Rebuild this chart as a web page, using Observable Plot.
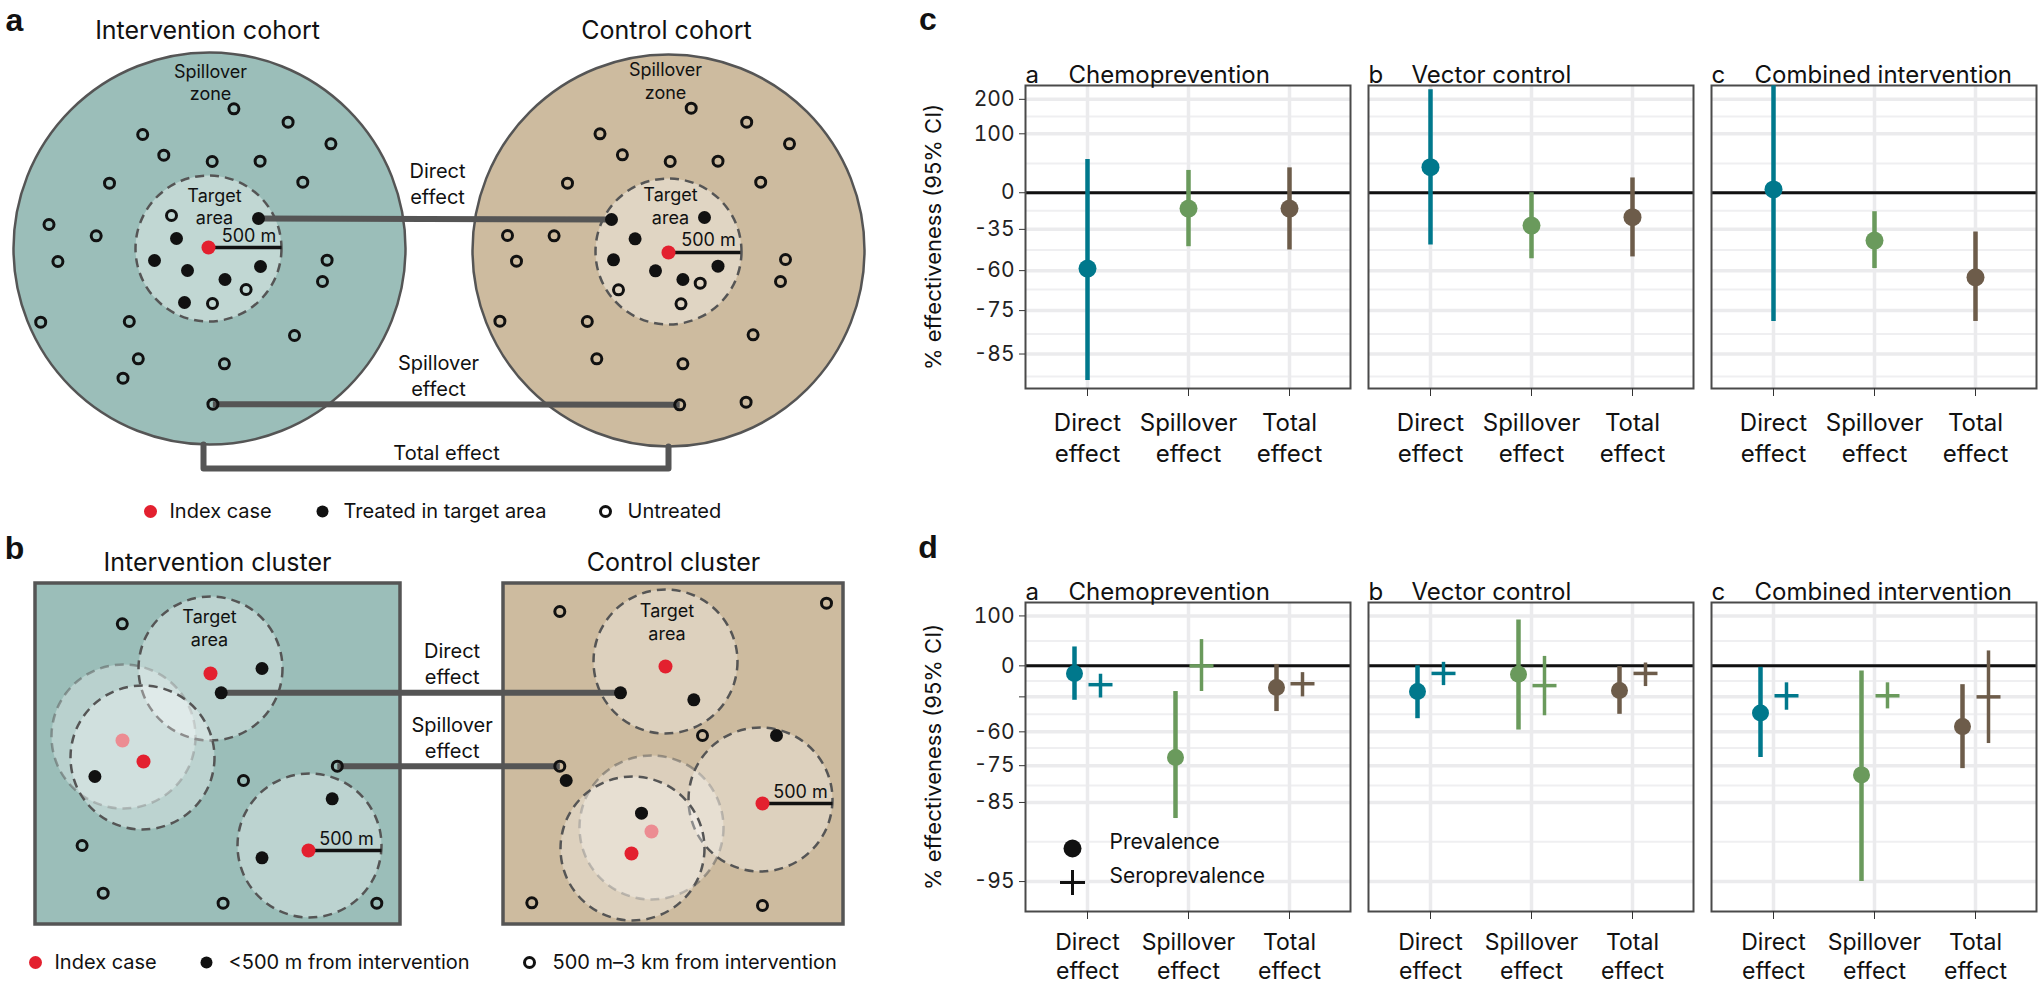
<!DOCTYPE html>
<html><head><meta charset="utf-8">
<script src="https://cdn.jsdelivr.net/npm/d3@7"></script>
<script src="https://cdn.jsdelivr.net/npm/@observablehq/plot@0.6"></script>
<style>
body{margin:0;background:#fff;}
#fig{position:relative;width:2040px;height:989px;overflow:hidden;background:#fff;font-family:Inter,"Liberation Sans",sans-serif;color:#111;}
.lbl{position:absolute;transform:translate(-50%,-50%);white-space:nowrap;line-height:1.1;}
.plabel{font-family:"Liberation Sans",Arial,sans-serif;font-weight:900;font-size:32px;}
</style></head><body><div id="fig"></div>
<script>
// ---------------- DATA ----------------
const effects = ["Direct effect", "Spillover effect", "Total effect"];
const interventions = ["Chemoprevention", "Vector control", "Combined intervention"];
const panelLetters = ["a", "b", "c"];

// c: cohort design, % effectiveness (rows: intervention, cols: effect)
const cohortEst = [[-59, -17, -17], [35, -32, -25], [4, -43, -63]];
const cohortLo  = [[-89, -47, -49], [-46, -54, -53], [-78, -59, -78]];
const cohortHi  = [[48, 30, 34], [236, 0, 19], [252, -20, -37]];

// d: cluster design, prevalence and seroprevalence
const prevEst = [[-10, -72, -26], [-30, -11, -29], [-48, -78, -57]];
const prevLo  = [[-38, -88, -47], [-52, -59, -49], [-72, -95, -76]];
const prevHi  = [[30, -30, 2], [0, 89, -1], [-2, -7, -23]];
const seroEst = [[-23, 0, -22], [-10, -24, -10], [-34, -34, -35]];
const seroLo  = [[-36, -30, -35], [-24, -50, -25], [-46, -45, -66]];
const seroHi  = [[-11, 44, -9], [5, 14, 4], [-21, -21, 23]];

// axis ticks (% effectiveness)
const ticksC = [200, 100, 0, -35, -60, -75, -85];
const minorC = [145, 41, -19, -49, -68, -81, -88.5];
const ticksD = [100, 0, -35, -60, -75, -85, -95];
const minorD = [41, -19, -49, -68, -81, -91.3];
const domainC = [-90, 253];
const domainD = [-96.7, 141];
const yTitle = "% effectiveness (95% CI)";
const legendLabels = ["Prevalence", "Seroprevalence"];

// schematic (panels a, b) coordinates
const cohortZones = [{arm: "intervention", x: 209, y: 248}, {arm: "control", x: 668, y: 250}];
const cohortTargets = [{x: 208, y: 248}, {x: 668, y: 251}];
const cohortIndex = [[208, 247], [668, 252]];
const cohortTreated = [[258,218],[176,238],[154,260],[187,270],[260,266],[224.5,279],[184,302],
  [611,219],[704,217],[634.6,238.3],[613,259.3],[655,270.3],[682.4,279],[717.5,265.7]];
const cohortUntreated = [[171,215],[245.6,289],[212,303],
  [233.4,108.3],[287.6,121.7],[142.2,134],[330.4,143.3],[163.3,154.7],[211.7,161],[259.6,160.7],[109,182.7],[302.3,181.7],
  [48.5,224],[95.7,235.3],[57.4,261],[326.6,259.7],[322,281],[40.2,321.7],[128.8,321],[294,335],[137.8,358.3],[223.9,363.3],[122.5,377.7],[212.4,403.7],
  [699.7,282.7],[618,289.3],[680.5,303.3],
  [690.7,107.7],[746.2,121.7],[599.5,133.3],[789,143.3],[621.9,154.3],[669.7,161],[717.5,160.7],[567,182.7],[760.2,181.7],
  [507,235],[553.6,235.3],[516,260.7],[785,259],[780,281],[499.4,320.7],[586.8,321],[752.6,334.3],[596.3,358.3],[682.4,363.3],[745.6,401.7],[679.2,404.3]];
const totalBracket = [[203,444],[203,468],[668,468],[668,446]];

const clusterBoxes = [{arm: "intervention", x1: 35, y1: 583, x2: 400, y2: 924}, {arm: "control", x1: 503, y1: 583, x2: 843, y2: 924}];
const clusterGhosts = [[123,736],[651,827]];
const clusterTargets = [[210,668],[142,757],[309,845],[665,661],[760,799],[632,848]];
const clusterIndex = [[210,673],[143,761],[308,850],[665,666],[762,803],[631,853]];
const clusterGhostIndex = [[122,740],[651,831]];
const clusterTreated = [[261.5,668],[220.7,692.3],[94.4,776],[331.7,798.3],[261.5,857.3],[620,692.3],[693.3,699.3],[776,735],[565.7,780],[641,812.7]];
const clusterUntreated = [[121.8,623.3],[243,780],[336.8,765.7],[81.6,845],[102.7,892.7],[222.6,902.7],[376.3,902.7],
  [559.3,611],[826,602.7],[702,735],[559.3,765.7],[531.3,902.3],[762,905]];

const effectLinks = [
  {x1: 258, y1: 218, x2: 611, y2: 219}, {x1: 212.4, y1: 403.7, x2: 679.2, y2: 404.3},
  {x1: 220.7, y1: 692.3, x2: 620, y2: 692.3}, {x1: 336.8, y1: 765.7, x2: 559.3, y2: 765.7}];
const radiusLines = [
  {x1: 208, y1: 247, x2: 281, y2: 247}, {x1: 668, y1: 252, x2: 740, y2: 252},
  {x1: 308, y1: 850, x2: 381, y2: 850}, {x1: 762, y1: 803, x2: 832, y2: 803}];

const panelTitles = [["Intervention cohort", 207, 30], ["Control cohort", 666, 30], ["Intervention cluster", 217, 562], ["Control cluster", 673, 562]];
const zoneLabels = [["Spillover\nzone", 210, 81.5], ["Spillover\nzone", 665, 80], ["Target\narea", 214, 205.5], ["Target\narea", 670, 205],
  ["Target\narea", 209, 627], ["Target\narea", 666.5, 621]];
const radiusLabels = [["500 m", 248.5, 235.5], ["500 m", 708, 240], ["500 m", 346, 839], ["500 m", 800, 792]];
const effectLabels = [["Direct\neffect", 437, 182.5], ["Spillover\neffect", 438, 374.5], ["Total effect", 446, 451],
  ["Direct\neffect", 451.6, 662], ["Spillover\neffect", 451.6, 736]];
const letterLabels = [["a", 14, 20], ["b", 14, 548]];
const legendItems = [
  {kind: "index", x: 150, y: 511, label: "Index case", tx: 169},
  {kind: "treated", x: 322, y: 511, label: "Treated in target area", tx: 343},
  {kind: "untreated", x: 605, y: 511, label: "Untreated", tx: 627},
  {kind: "index", x: 35, y: 962, label: "Index case", tx: 54},
  {kind: "treated", x: 206, y: 962, label: "<500 m from intervention", tx: 228},
  {kind: "untreated", x: 529, y: 962, label: "500 m\u20133 km from intervention", tx: 552}];

// ---------------- STYLE ----------------
const FONT = "Inter, 'Liberation Sans', sans-serif";
const TEAL = "#00788C", GREEN = "#6A9A5C", BROWN = "#6D5C4A";
const armFill = {intervention: "#9BBEB9", control: "#CDBB9F"};
const RED = "#E3202F", PINK = "#EC8C92", INK = "#111";
const pts = a => a.map(([x, y]) => ({x, y}));
const txt = a => a.map(([text, x, y]) => ({text, x, y}));
const rr = e => 1 + e / 100;

const fig = document.getElementById("fig");
function place(node, left, top) {
  node.style.position = "absolute"; node.style.left = left + "px"; node.style.top = top + "px";
  fig.appendChild(node);
}
function label(text, cx, cy, cls) {
  const d = document.createElement("div");
  d.className = "lbl " + cls; d.textContent = text;
  d.style.left = cx + "px"; d.style.top = cy + "px";
  fig.appendChild(d);
}

// ---------------- SCHEMATIC (a, b) ----------------
const dash = "9,6";
const schematic = Plot.plot({
  width: 900, height: 989, margin: 0,
  x: {domain: [0, 900], range: [0, 900], axis: null},
  y: {domain: [0, 989], range: [0, 989], axis: null},
  color: {type: "identity"},
  style: {fontFamily: FONT, background: "transparent", overflow: "visible"},
  marks: [
    Plot.dot(cohortZones, {x: "x", y: "y", r: 196, fill: d => armFill[d.arm], stroke: "#555", strokeWidth: 2.5}),
    Plot.dot(cohortTargets, {x: "x", y: "y", r: 73, fill: "#fff", fillOpacity: 0.38, stroke: "#555", strokeWidth: 2.5, strokeDasharray: dash}),
    Plot.rect(clusterBoxes, {x1: "x1", y1: "y1", x2: "x2", y2: "y2", fill: d => armFill[d.arm], stroke: "#555", strokeWidth: 3.5}),
    Plot.dot(pts(clusterGhosts), {x: "x", y: "y", r: 72, fill: "#fff", fillOpacity: 0.3, stroke: "#555", strokeOpacity: 0.5, strokeWidth: 2.5, strokeDasharray: dash}),
    Plot.dot(pts(clusterTargets), {x: "x", y: "y", r: 72, fill: "#fff", fillOpacity: 0.33, stroke: "#555", strokeWidth: 2.5, strokeDasharray: dash}),
    Plot.line(pts(totalBracket), {x: "x", y: "y", stroke: "#555", strokeWidth: 6}),
    Plot.link(effectLinks, {x1: "x1", y1: "y1", x2: "x2", y2: "y2", stroke: "#555", strokeWidth: 6}),
    Plot.link(radiusLines, {x1: "x1", y1: "y1", x2: "x2", y2: "y2", stroke: INK, strokeWidth: 3.5}),
    Plot.text(txt(panelTitles), {x: "x", y: "y", text: "text", fontSize: 25, fill: INK}),
    Plot.text(txt(zoneLabels), {x: "x", y: "y", text: "text", fontSize: 18, lineHeight: 1.25, fill: INK}),
    Plot.text(txt(radiusLabels), {x: "x", y: "y", text: "text", fontSize: 18, fill: INK}),
    Plot.text(txt(effectLabels), {x: "x", y: "y", text: "text", fontSize: 20, lineHeight: 1.3, fill: INK}),
    Plot.text(txt(letterLabels), {x: "x", y: "y", text: "text", fontSize: 32, fontWeight: 900, fontFamily: "'Liberation Sans', Arial, sans-serif", fill: INK}),
    Plot.text(legendItems, {x: "tx", y: "y", text: "label", fontSize: 20, textAnchor: "start", fill: INK}),
    Plot.dot(pts(clusterUntreated), {x: "x", y: "y", r: 5, stroke: INK, strokeWidth: 3, fill: "none"}),
    Plot.dot(pts(cohortUntreated), {x: "x", y: "y", r: 5, stroke: INK, strokeWidth: 3, fill: "none"}),
    Plot.dot(legendItems.filter(d => d.kind === "untreated"), {x: "x", y: "y", r: 5, stroke: INK, strokeWidth: 3, fill: "none"}),
    Plot.dot(pts(cohortTreated), {x: "x", y: "y", r: 6.5, fill: INK}),
    Plot.dot(pts(clusterTreated), {x: "x", y: "y", r: 6.5, fill: INK}),
    Plot.dot(legendItems.filter(d => d.kind === "treated"), {x: "x", y: "y", r: 6, fill: INK}),
    Plot.dot(pts(clusterGhostIndex), {x: "x", y: "y", r: 7, fill: PINK}),
    Plot.dot(pts(cohortIndex), {x: "x", y: "y", r: 7, fill: RED}),
    Plot.dot(pts(clusterIndex), {x: "x", y: "y", r: 7, fill: RED}),
    Plot.dot(legendItems.filter(d => d.kind === "index"), {x: "x", y: "y", r: 6.5, fill: RED})
  ]
});
place(schematic, 0, 0);

// ---------------- EFFECT PLOTS (c, d) ----------------
const hbar = {draw(ctx, size) { const r = Math.sqrt(size / Math.PI); ctx.moveTo(-r, 0); ctx.lineTo(r, 0); }};
const plus = {draw(ctx, size) { const r = Math.sqrt(size / Math.PI); ctx.moveTo(-r, 0); ctx.lineTo(r, 0); ctx.moveTo(0, -r); ctx.lineTo(0, r); }};

function rows(est, lo, hi) {
  const out = [];
  interventions.forEach((p, i) => effects.forEach((e, j) =>
    out.push({panel: p, effect: e, est: est[i][j], lo: lo[i][j], hi: hi[i][j]})));
  return out;
}
const titleRows = interventions.map((p, i) => ({panel: p, letter: panelLetters[i]}));

function effectPlot({height, marginTop, marginBottom, ticks, minor, domain, series, legend, axisFont, axisPad, axisLH}) {
  const first = [{panel: interventions[0]}];
  const yMid = Math.sqrt(rr(domain[0]) * rr(domain[1]));
  const marks = [
    Plot.ruleY(minor.map(rr), {stroke: "#EFEFF1", strokeWidth: 2}),
    Plot.ruleY(ticks.map(rr), {stroke: "#EBEBED", strokeWidth: 3.5}),
    Plot.ruleX(effects, {stroke: "#EBEBED", strokeWidth: 3.5}),
    Plot.ruleY([1], {stroke: INK, strokeWidth: 3}),
    Plot.frame({stroke: "#4a4a4a", strokeWidth: 2})
  ];
  for (const s of series) {
    marks.push(Plot.ruleX(s.data, {fx: "panel", x: "effect", y1: d => rr(d.lo), y2: d => rr(d.hi), stroke: "effect", strokeWidth: s.lw, dx: s.dx}));
    if (s.kind === "dot") marks.push(Plot.dot(s.data, {fx: "panel", x: "effect", y: d => rr(d.est), fill: "effect", r: s.r, dx: s.dx}));
    else marks.push(Plot.dot(s.data, {fx: "panel", x: "effect", y: d => rr(d.est), symbol: hbar, fill: "none", stroke: "effect", strokeWidth: s.lw, r: 12, dx: s.dx}));
  }
  marks.push(
    Plot.axisX({tickFormat: d => d.replace(" ", "\n"), fontSize: axisFont, lineHeight: axisLH, tickSize: 8, tickPadding: axisPad, label: null, stroke: "#333", fill: INK}),
    Plot.axisY({ticks: ticks.map(rr), tickFormat: d => `${Math.round((d - 1) * 100)}`, fontSize: 21, tickSize: 6, tickPadding: 5, label: null, stroke: "#333", fill: "#222"}),
    Plot.text(first, {fx: "panel", y: () => yMid, frameAnchor: "left", textAnchor: "middle", lineAnchor: "middle", dx: -92, rotate: -90, text: () => yTitle, fontSize: 22, fill: INK}),
    Plot.text(titleRows, {fx: "panel", text: "letter", frameAnchor: "top-left", dy: -20, textAnchor: "start", fontSize: 24, fill: INK}),
    Plot.text(titleRows, {fx: "panel", text: "panel", frameAnchor: "top-left", dx: 43, dy: -20, textAnchor: "start", fontSize: 24, fill: INK})
  );
  if (legend) {
    marks.push(
      Plot.dot(first, {fx: "panel", frameAnchor: "bottom-left", dx: 47, dy: -63, r: 9, fill: INK}),
      Plot.dot(first, {fx: "panel", frameAnchor: "bottom-left", dx: 47, dy: -29, r: 12.5, symbol: plus, fill: "none", stroke: INK, strokeWidth: 3}),
      Plot.text(first, {fx: "panel", frameAnchor: "bottom-left", dx: 84, dy: -63, text: () => legendLabels[0], textAnchor: "start", fontSize: 21, fill: INK}),
      Plot.text(first, {fx: "panel", frameAnchor: "bottom-left", dx: 84, dy: -29, text: () => legendLabels[1], textAnchor: "start", fontSize: 21, fill: INK})
    );
  }
  return Plot.plot({
    width: 1140, height, marginLeft: 124, marginRight: 2, marginTop, marginBottom,
    style: {fontFamily: FONT, fontSize: "21px", color: INK, background: "transparent", overflow: "visible"},
    fx: {domain: interventions, paddingInner: 0.0523, paddingOuter: 0, axis: null, label: null},
    x: {type: "point", domain: effects, padding: 0.6},
    y: {type: "log", domain: domain.map(rr)},
    color: {domain: effects, range: [TEAL, GREEN, BROWN]},
    marks
  });
}

const plotC = effectPlot({height: 430, marginTop: 45, marginBottom: 82, ticks: ticksC, minor: minorC, domain: domainC,
  axisFont: 24, axisPad: 12, axisLH: 1.3,
  series: [{kind: "dot", data: rows(cohortEst, cohortLo, cohortHi), dx: 0, lw: 4.5, r: 9}]});
place(plotC, 900, 40);

const plotD = effectPlot({height: 439, marginTop: 52, marginBottom: 78, ticks: ticksD, minor: minorD, domain: domainD, legend: true,
  axisFont: 23, axisPad: 10, axisLH: 1.27,
  series: [
    {kind: "dot", data: rows(prevEst, prevLo, prevHi), dx: -13, lw: 4.5, r: 8.5},
    {kind: "cross", data: rows(seroEst, seroLo, seroHi), dx: 13, lw: 3.5}
  ]});
place(plotD, 900, 550);

label("c", 928, 20, "plabel");
label("d", 928, 548, "plabel");
</script></body></html>
